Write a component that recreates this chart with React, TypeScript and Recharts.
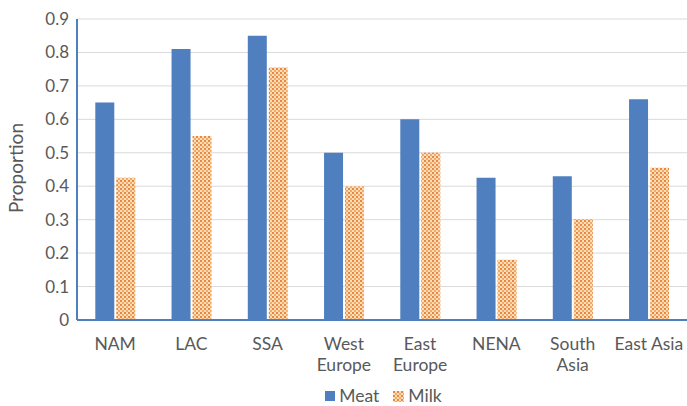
import { BarChart, Bar, XAxis, YAxis, CartesianGrid, Legend } from "recharts";

const regions = ["NAM", "LAC", "SSA", "West\nEurope", "East\nEurope", "NENA", "South\nAsia", "East Asia"];
const meat = [0.65, 0.81, 0.85, 0.5, 0.6, 0.425, 0.43, 0.66];
const milk = [0.425, 0.55, 0.755, 0.4, 0.5, 0.18, 0.302, 0.455];
const yTicks = [0, 0.1, 0.2, 0.3, 0.4, 0.5, 0.6, 0.7, 0.8, 0.9];

const data = regions.map((r, i) => ({ region: r, Meat: meat[i], Milk: milk[i] }));

const blue = "#4F7FBE";
const grey = "#595959";
const font = "Lato, 'Open Sans', sans-serif";

const Checker = ({ id }: { id: string }) => (
  <pattern id={id} x="0" y="0" width="4" height="4" patternUnits="userSpaceOnUse">
    <rect x="0" y="0" width="4" height="4" fill="#FBDDB8" />
    <rect x="0" y="0" width="2" height="2" fill="#E8873F" />
    <rect x="2" y="2" width="2" height="2" fill="#F2A868" />
  </pattern>
);

const XTick = (props: any) => {
  const { x, y, payload } = props;
  const lines = String(payload.value).split("\n");
  return (
    <text x={x} y={y} textAnchor="middle" fill={grey} fontSize={17.5} fontFamily={font}>
      {lines.map((l, i) => (
        <tspan key={i} x={x} dy={i === 0 ? 22 : 21}>
          {l}
        </tspan>
      ))}
    </text>
  );
};

const YLabel = () => (
  <text
    x={23}
    y={168}
    transform="rotate(-90 23 168)"
    textAnchor="middle"
    fill={grey}
    fontSize={19}
    fontFamily={font}
  >
    Proportion
  </text>
);

const LegendBox = () => (
  <div
    style={{
      display: "flex",
      justifyContent: "center",
      gap: 14,
      paddingLeft: 80,
      height: 20,
      lineHeight: "20px",
      fontFamily: font,
      fontSize: 17.5,
      color: grey,
    }}
  >
    <span style={{ display: "flex", alignItems: "center", gap: 4 }}>
      <svg width={10} height={10}>
        <rect width={10} height={10} fill={blue} />
      </svg>
      Meat
    </span>
    <span style={{ display: "flex", alignItems: "center", gap: 4 }}>
      <svg width={11} height={11}>
        <defs>
          <Checker id="milkLegend" />
        </defs>
        <rect width={11} height={11} fill="url(#milkLegend)" />
      </svg>
      Milk
    </span>
  </div>
);

export default function App() {
  return (
    <div style={{ position: "fixed", left: 0, top: 0, width: 687, height: 406, background: "#fff" }}>
      <BarChart
        width={687}
        height={406}
        data={data}
        margin={{ top: 19, right: 0, left: 0, bottom: 0 }}
        barCategoryGap="24%"
        barGap={2}
      >
        <defs>
          <Checker id="milkFill" />
        </defs>
        <CartesianGrid vertical={false} stroke="#D9D9D9" strokeWidth={1} />
        <XAxis
          dataKey="region"
          height={66}
          tick={<XTick />}
          tickLine={false}
          axisLine={{ stroke: blue, strokeWidth: 2 }}
          interval={0}
        />
        <YAxis
          width={77}
          domain={[0, 0.9]}
          ticks={yTicks}
          tickLine={false}
          tickSize={0}
          tickMargin={8}
          axisLine={{ stroke: blue, strokeWidth: 2 }}
          tick={{ fill: grey, fontSize: 17, fontFamily: font }}
          label={<YLabel />}
        />
        <Legend
          verticalAlign="bottom"
          height={20}
          content={<LegendBox />}
          wrapperStyle={{ top: 386, bottom: "auto" }}
        />
        <Bar dataKey="Meat" fill={blue} isAnimationActive={false} />
        <Bar dataKey="Milk" fill="url(#milkFill)" isAnimationActive={false} />
      </BarChart>
    </div>
  );
}
